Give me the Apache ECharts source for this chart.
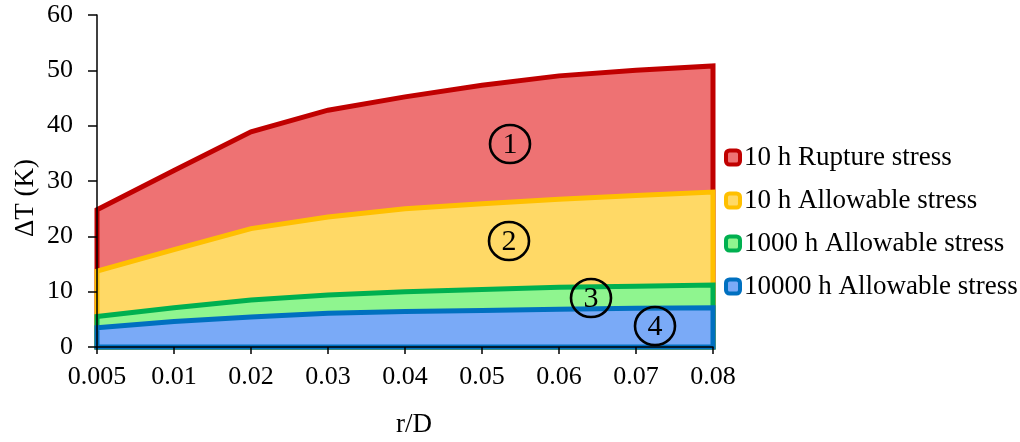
<!DOCTYPE html>
<html>
<head>
<meta charset="utf-8">
<script src="https://cdn.jsdelivr.net/npm/echarts@6/dist/echarts.min.js"></script>
<style>
  html, body { margin: 0; padding: 0; background: #fff; }
  #chart { width: 1020px; height: 442px; }
</style>
</head>
<body>
<div id="chart"></div>
<script>
// r/D categories and temperature-difference limits (K) for each stress criterion
const categories = ['0.005', '0.01', '0.02', '0.03', '0.04', '0.05', '0.06', '0.07', '0.08'];
const rupture10h = [24.8, 31.9, 38.9, 42.8, 45.2, 47.3, 49.0, 50.0, 50.8];
const allowable10h = [13.7, 17.6, 21.4, 23.5, 25.0, 25.9, 26.7, 27.4, 28.0];
const allowable1000h = [5.5, 7.1, 8.5, 9.4, 10.0, 10.4, 10.8, 11.0, 11.2];
const allowable10000h = [3.5, 4.6, 5.4, 6.1, 6.4, 6.6, 6.8, 7.0, 7.1];
const yTicks = [0, 10, 20, 30, 40, 50, 60];

const seriesNames = ['10 h Rupture stress', '10 h Allowable stress', '1000 h Allowable stress', '10000 h Allowable stress'];
const seriesValues = [rupture10h, allowable10h, allowable1000h, allowable10000h];
const fills = ['#EE7273', '#FFD966', '#8FF58F', '#7AAAF7'];
const borders = ['#C00000', '#FFC000', '#00B050', '#0070C0'];

const FONT = '"Liberation Serif", "Times New Roman", serif';

// Closed area outline: top edge through the data, down to zero on both sides
function areaRenderer(values, fill, stroke) {
  return function (params, api) {
    if (params.dataIndex !== 0) return null;
    const pts = values.map((v, i) => api.coord([i, v]));
    pts.push(api.coord([values.length - 1, 0]));
    pts.push(api.coord([0, 0]));
    return {
      type: 'polygon',
      shape: { points: pts },
      style: { fill: fill, stroke: stroke, lineWidth: 5, lineJoin: 'miter' }
    };
  };
}

const series = seriesValues.map((vals, k) => ({
  name: seriesNames[k],
  type: 'custom',
  z: 2 + k,
  clip: false,
  itemStyle: { color: fills[k], borderColor: borders[k] },
  renderItem: areaRenderer(vals, fills[k], borders[k]),
  data: vals.map((v, i) => [i, v])
}));

// Circled region numbers
const regionMarks = [
  { label: '1', x: 510, y: 144 },
  { label: '2', x: 509, y: 241 },
  { label: '3', x: 591, y: 298 },
  { label: '4', x: 655, y: 326 }
];
const graphics = [];
regionMarks.forEach(m => {
  graphics.push({
    type: 'ellipse', z: 100,
    shape: { cx: m.x, cy: m.y, rx: 20, ry: 19 },
    style: { fill: 'none', stroke: '#000', lineWidth: 2.6 }
  });
  graphics.push({
    type: 'text', z: 101,
    style: { text: m.label, x: m.x, y: m.y + 1, fill: '#000', font: '30px ' + FONT, align: 'center', verticalAlign: 'middle' }
  });
});
graphics.push({
  type: 'text', z: 100, rotation: Math.PI / 2, x: 26, y: 198,
  style: { text: 'ΔT (K)', x: 0, y: 0, fill: '#000', font: '27px ' + FONT, align: 'center', verticalAlign: 'middle' }
});
graphics.push({
  type: 'text', z: 100,
  style: { text: 'r/D', x: 414, y: 425, fill: '#000', font: '27px ' + FONT, align: 'center', verticalAlign: 'middle' }
});

const chart = echarts.init(document.getElementById('chart'), null, { renderer: 'canvas' });
chart.setOption({
  animation: false,
  backgroundColor: '#fff',
  textStyle: { fontFamily: FONT },
  grid: { left: 97, right: 307, top: 15, bottom: 95, containLabel: false },
  xAxis: {
    type: 'category',
    data: categories,
    boundaryGap: false,
    z: 10,
    axisLine: { show: true, lineStyle: { color: '#000', width: 1.5 } },
    axisTick: { show: true, inside: false, length: 7, interval: 0, lineStyle: { color: '#000', width: 1.5 } },
    axisLabel: { interval: 0, margin: 17, color: '#000', fontSize: 26, fontFamily: FONT },
    splitLine: { show: false }
  },
  yAxis: {
    type: 'value',
    min: yTicks[0],
    max: yTicks[yTicks.length - 1],
    interval: 10,
    z: 10,
    axisLine: { show: true, lineStyle: { color: '#000', width: 1.5 } },
    axisTick: { show: true, inside: false, length: 9, lineStyle: { color: '#000', width: 1.5 } },
    axisLabel: { margin: 24, color: '#000', fontSize: 26, fontFamily: FONT },
    splitLine: { show: false }
  },
  legend: {
    orient: 'vertical',
    left: 724,
    top: 144,
    padding: 0,
    itemWidth: 14,
    itemHeight: 14,
    itemGap: 16,
    textStyle: { color: '#000', fontSize: 27, fontFamily: FONT, padding: [0, 0, 0, -1] },
    data: seriesNames.map((n, k) => ({
      name: n,
      icon: 'roundRect',
      itemStyle: { color: fills[k], borderColor: borders[k], borderWidth: 4 }
    }))
  },
  series: series,
  graphic: graphics
});
</script>
</body>
</html>
